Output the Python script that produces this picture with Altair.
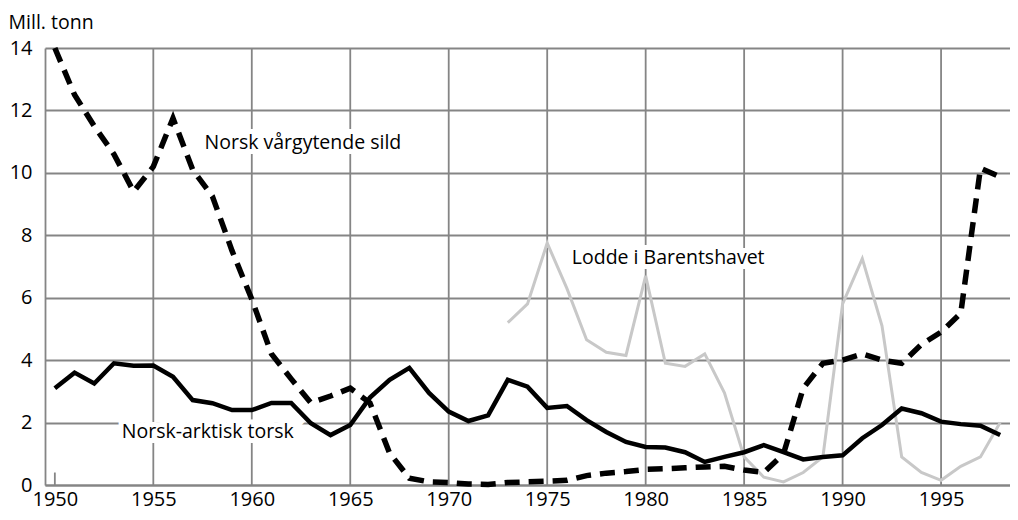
import altair as alt
import pandas as pd

years = list(range(1950, 1999))
torsk = [3.1, 3.6, 3.25, 3.9, 3.82, 3.83, 3.47, 2.72, 2.62, 2.4,
         2.4, 2.63, 2.63, 1.98, 1.6, 1.92, 2.8, 3.37, 3.75, 2.95,
         2.35, 2.05, 2.23, 3.37, 3.15, 2.47, 2.53, 2.08, 1.7, 1.38,
         1.22, 1.2, 1.05, 0.74, 0.9, 1.05, 1.28, 1.05, 0.82, 0.9,
         0.95, 1.5, 1.92, 2.45, 2.3, 2.03, 1.95, 1.9, 1.6]
sild = [14.0, 12.5, 11.5, 10.6, 9.4, 10.2, 11.75, 10.1, 9.25, 7.5,
        5.95, 4.2, 3.4, 2.63, 2.85, 3.1, 2.63, 1.02, 0.22, 0.1,
        0.08, 0.03, 0.02, 0.08, 0.1, 0.12, 0.15, 0.3, 0.38, 0.43,
        0.5, 0.52, 0.55, 0.58, 0.6, 0.48, 0.4, 1.0, 3.1, 3.9,
        4.0, 4.2, 4.0, 3.9, 4.5, 4.9, 5.5, 10.15, 9.87]
lodde_years = list(range(1973, 1999))
lodde = [5.2, 5.8, 7.75, 6.3, 4.65, 4.25, 4.15, 6.7, 3.9, 3.8,
         4.2, 2.95, 0.9, 0.25, 0.1, 0.4, 0.9, 5.8, 7.25, 5.1,
         0.9, 0.4, 0.15, 0.6, 0.9, 2.0]

grid_years = [1955, 1960, 1965, 1970, 1975, 1980, 1985, 1990, 1995]
tick_labels = [1950, 1955, 1960, 1965, 1970, 1975, 1980, 1985, 1990, 1995]
y_ticks = [0, 2, 4, 6, 8, 10, 12, 14]

label_text = ["Norsk vårgytende sild", "Lodde i Barentshavet", "Norsk-arktisk torsk"]
label_x = [1957.6, 1976.25, 1953.4]
label_y = [10.96, 7.28, 1.7]

FONT = "Open Sans"
GRID = "#858585"
FS_TICK = 20
FS_LABEL = 19.5

df_torsk = pd.DataFrame({"year": years, "value": torsk})
df_sild = pd.DataFrame({"year": years, "value": sild})
df_lodde = pd.DataFrame({"year": lodde_years, "value": lodde})
df_grid = pd.DataFrame({"year": grid_years})
df_labels = pd.DataFrame({"year": label_x, "value": label_y, "text": label_text})
df_tick = pd.DataFrame({"year": [1950], "y0": [0.0], "y1": [0.4]})

xscale = alt.Scale(domain=[1949.5, 1998.5], nice=False, zero=False)
yscale = alt.Scale(domain=[0, 14], nice=False)

xaxis = alt.Axis(values=tick_labels, format="d", grid=False, ticks=False,
                 labelFont=FONT, labelFontSize=FS_TICK, labelColor="black",
                 labelPadding=4, domainColor=GRID, domainWidth=1.8, title=None,
                 labelFlush=False)
yaxis = alt.Axis(values=y_ticks, grid=True, gridColor=GRID, gridWidth=1.8,
                 ticks=False, labelFont=FONT, labelFontSize=FS_TICK, labelColor="black",
                 labelPadding=13, domainColor=GRID, domainWidth=1.8,
                 title="Mill. tonn", titleAngle=0, titleAlign="left",
                 titleBaseline="alphabetic", titleX=-37, titleY=-20,
                 titleFont=FONT, titleFontSize=FS_LABEL, titleFontWeight="normal",
                 titleColor="black")

vgrid = alt.Chart(df_grid).mark_rule(color=GRID, strokeWidth=1.8).encode(
    x=alt.X("year:Q", scale=xscale, axis=xaxis)
)
tick = alt.Chart(df_tick).mark_rule(color=GRID, strokeWidth=1.8).encode(
    x=alt.X("year:Q", scale=xscale),
    y=alt.Y("y0:Q", scale=yscale, axis=yaxis),
    y2="y1:Q",
)

halo = alt.Chart(df_labels).mark_text(
    align="left", baseline="middle", font=FONT, fontSize=FS_LABEL,
    color="white", stroke="white", strokeWidth=10,
).encode(x=alt.X("year:Q", scale=xscale), y=alt.Y("value:Q", scale=yscale), text="text:N")

lodde_line = alt.Chart(df_lodde).mark_line(color="#c8c8c8", strokeWidth=3).encode(
    x=alt.X("year:Q", scale=xscale), y=alt.Y("value:Q", scale=yscale)
)
torsk_line = alt.Chart(df_torsk).mark_line(color="black", strokeWidth=4.5).encode(
    x=alt.X("year:Q", scale=xscale), y=alt.Y("value:Q", scale=yscale)
)
sild_line = alt.Chart(df_sild).mark_line(color="black", strokeWidth=5.5, strokeDash=[15, 9]).encode(
    x=alt.X("year:Q", scale=xscale), y=alt.Y("value:Q", scale=yscale)
)
texts = alt.Chart(df_labels).mark_text(
    align="left", baseline="middle", font=FONT, fontSize=FS_LABEL, color="black",
).encode(x=alt.X("year:Q", scale=xscale), y=alt.Y("value:Q", scale=yscale), text="text:N")

chart = alt.layer(vgrid, tick, halo, lodde_line, torsk_line, sild_line, texts).properties(
    width=965, height=437,
    autosize=alt.AutoSizeParams(type="none"),
    padding={"left": 37, "top": 40, "right": 0, "bottom": 30},
    background="white",
).configure_view(stroke=None)

chart.save("out.html", embed_options={"renderer": "svg", "actions": False})
